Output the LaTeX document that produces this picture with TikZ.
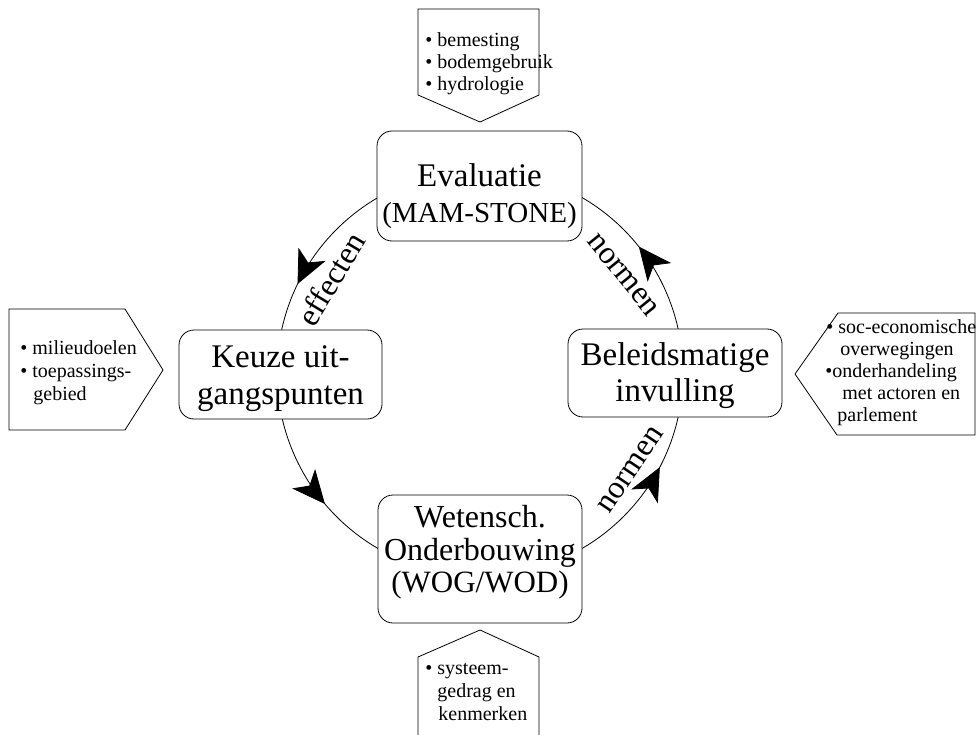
\documentclass[tikz,border=0pt]{standalone}
\usepackage{fontspec}
\setmainfont{Liberation Serif}
\usetikzlibrary{arrows.meta,decorations.markings,calc}
\begin{document}
\begin{tikzpicture}[x=1pt,y=1pt,line width=0.8pt,
  box/.style={draw,rounded corners=15pt,fill=white,inner sep=0pt},
  big/.style={font=\fontsize{33}{36}\selectfont,inner sep=0pt,anchor=base},
  mid/.style={font=\fontsize{29}{32}\selectfont,inner sep=0pt,anchor=base},
  small/.style={font=\fontsize{20}{22}\selectfont,inner sep=0pt,anchor=base west},
  lbl/.style={font=\fontsize{32}{36}\selectfont,inner sep=0pt},
  cyc/.style={postaction={decorate},decoration={markings,
     mark=at position #1 with {\arrow{Stealth[length=33pt,width=30pt,inset=9pt]}}}}
]
\useasboundingbox (0,0) rectangle (976,-735);
\coordinate (ctr) at (480,-373);
\coordinate (a1) at ($(ctr)+(120.5:203)$);
\coordinate (a2) at ($(ctr)+(193.1:203)$);
\coordinate (a3) at ($(ctr)+(300.2:203)$);
\coordinate (a4) at ($(ctr)+(12.5:203)$);
% cycle arcs
\draw[cyc=0.71] (a1) arc[start angle=120.5,end angle=167.7,radius=203];
\draw[cyc=0.58] (a2) arc[start angle=193.1,end angle=239.8,radius=203];
\draw[cyc=0.68] (a3) arc[start angle=300.2,end angle=347.5,radius=203];
\draw[cyc=0.55] (a4) arc[start angle=12.5,end angle=59.8,radius=203];
% boxes
\node[box,minimum width=205,minimum height=110] (eval) at (479.5,-186) {};
\node[box,minimum width=203,minimum height=89] (keuze) at (280.5,-374.5) {};
\node[box,minimum width=214,minimum height=88] (bel) at (675,-373) {};
\node[box,minimum width=204,minimum height=128] (wet) at (480,-559) {};
\node[big] (evt1) at (479.5,-187) {Evaluatie};
\node[mid] (evt2) at (479.5,-223) {(MAM-STONE)};
\node[big] (kt1) at (280.5,-367) {Keuze uit-};
\node[big] (kt2) at (280.5,-404) {gangspunten};
\node[big] (bt1) at (675,-365) {Beleidsmatige};
\node[big] (bt2) at (675,-401) {invulling};
\node[big,font=\fontsize{32}{36}\selectfont] (wt1) at (480,-527) {Wetensch.};
\node[big,font=\fontsize{32}{36}\selectfont] (wt2) at (480,-560) {Onderbouwing};
\node[big,font=\fontsize{31}{36}\selectfont] (wt3) at (480,-592) {(WOG/WOD)};
% arc labels
\node[lbl,rotate=59] (l1) at (331,-279) {effecten};
\node[lbl,rotate=-51] (l2) at (623,-275) {normen};
\node[lbl,rotate=56] (l3) at (631,-470) {normen};
% pentagons
\draw (418,-9) -- (539,-9) -- (539,-95) -- (480,-122) -- (418,-95) -- cycle;
\draw (9,-309) -- (125,-309) -- (163,-370) -- (125,-430) -- (9,-430) -- cycle;
\draw (838,-313) -- (975,-313) -- (975,-435) -- (837,-435) -- (795,-374) -- cycle;
\draw (418,-735) -- (418,-657) -- (480,-630) -- (539,-657) -- (539,-735);
% pentagon texts
\node[small] (p1a) at (425,-47) {• bemesting};
\node[small] (p1b) at (425,-69) {• bodemgebruik};
\node[small] (p1c) at (425,-91) {• hydrologie};
\node[small] (p2a) at (20,-354) {• milieudoelen};
\node[small] (p2b) at (20,-377) {• toepassings-};
\node[small] (p2c) at (33,-400) {gebied};
\node[small] (p3a) at (826,-333) {• soc-economische};
\node[small] (p3b) at (840,-355) {overwegingen};
\node[small] (p3c) at (825,-377) {•onderhandeling};
\node[small] (p3d) at (842,-399) {met actoren en};
\node[small] (p3e) at (837,-421) {parlement};
\node[small] (p4a) at (425,-674) {• systeem-};
\node[small] (p4b) at (437,-697) {gedrag en};
\node[small] (p4c) at (438,-720) {kenmerken};
\end{tikzpicture}
\end{document}
